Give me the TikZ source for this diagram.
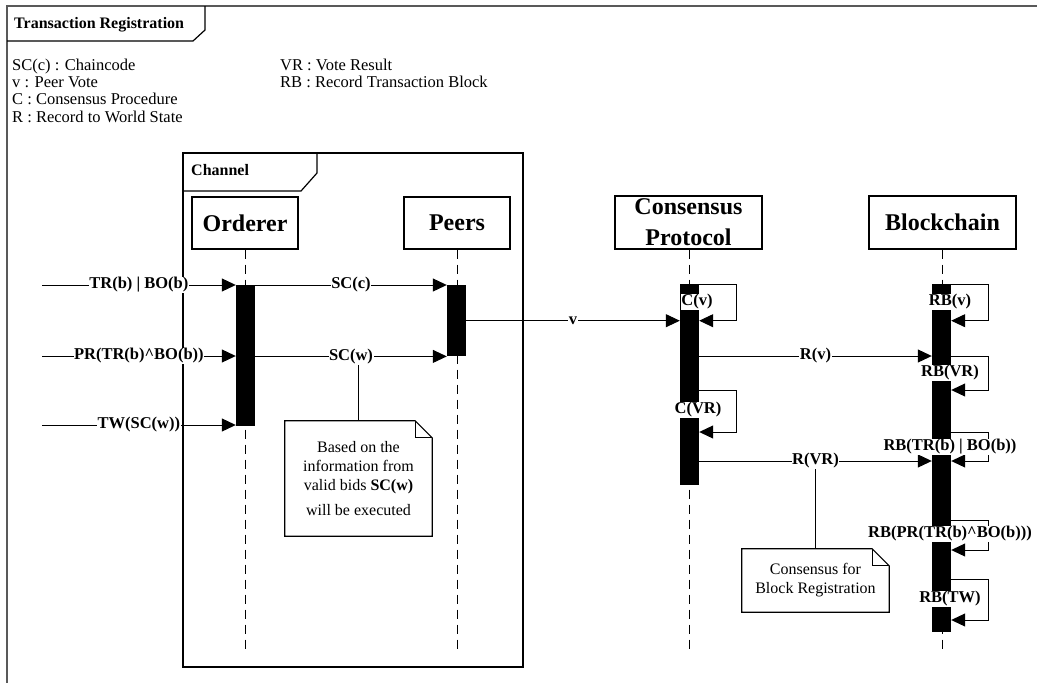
\documentclass[tikz,border=0pt]{standalone}
\usepackage{fontspec}
\setmainfont{Liberation Serif}
\newfontfamily\diagfont{Liberation Serif}
\usetikzlibrary{arrows.meta}

\tikzset{
  frame/.style={line width=1.2pt},
  outerframe/.style={line width=1.6pt, draw=black!65},
  head/.style={rectangle, draw, line width=1.2pt, minimum height=52pt, inner sep=0pt, align=center, font=\diagfont\bfseries\fontsize{24}{31}\selectfont},
  lifeline/.style={line width=1pt, dash pattern=on 9pt off 6pt},
  bar/.style={rectangle, fill=black, minimum width=19pt, inner sep=0pt, anchor=north},
  msg/.style={line width=1pt, -{Triangle[length=14pt,width=13pt]}},
  msglabel/.style={fill=white, inner sep=0.5pt, font=\diagfont\bfseries\fontsize{16.5}{18}\selectfont},
  legend/.style={anchor=base west, inner sep=0pt, font=\diagfont\fontsize{16.5}{18}\selectfont},
  notebox/.style={rectangle, inner sep=0pt, align=center, font=\diagfont\fontsize{16}{19}\selectfont},
}

\begin{document}
\begin{tikzpicture}[x=1pt, y=-1pt]
\useasboundingbox (0,0) rectangle (1037,683);

% outer frame
\draw[outerframe] (7,683) -- (7,6) -- (1037,6);
\draw[frame] (7,41) -- (193,41) -- (205,30) -- (205,6);
\node[anchor=base west, inner sep=0pt, font=\diagfont\bfseries\fontsize{16}{18}\selectfont] (title) at (14,28) {Transaction Registration};

% legend
\node[legend] (keySC) at (12,70) {SC(c) : Chaincode};
\node[legend] (keyV) at (12,87) {v : Peer Vote};
\node[legend] (keyC) at (12,104.5) {C : Consensus Procedure};
\node[legend] (keyR) at (12,122) {R : Record to World State};
\node[legend] (keyVR) at (280,70) {VR : Vote Result};
\node[legend] (keyRB) at (280,87) {RB : Record Transaction Block};

% channel
\draw[frame] (183,153) rectangle (523,667);
\draw[frame] (183,191) -- (301,191) -- (317,173) -- (317,153);
\node[anchor=base west, inner sep=0pt, font=\diagfont\bfseries\fontsize{16}{18}\selectfont] (channel) at (191,175) {Channel};

% heads
\node[head, minimum width=106pt] (orderer) at (245,223) {Orderer};
\node[head, minimum width=106pt] (peers) at (457,223) {Peers};
\node[head, minimum width=147pt, minimum height=53pt] (consensus) at (688.5,222.5) {Consensus\\Protocol};
\node[head, minimum width=147pt, minimum height=53pt] (blockchain) at (942.5,222.5) {Blockchain};

% lifelines
\coordinate (ordererEnd) at (245,650);
\coordinate (peersEnd) at (457,650);
\coordinate (consensusEnd) at (689,650);
\coordinate (blockchainEnd) at (942,650);
\draw[lifeline] (orderer.south) -- (ordererEnd);
\draw[lifeline] (peers.south) -- (peersEnd);
\draw[lifeline] (consensus.south -| consensusEnd) -- (consensusEnd);
\draw[lifeline] (blockchain.south -| blockchainEnd) -- (blockchainEnd);

% activations
\node[bar, minimum height=141pt] (ordererBar) at (245.5,285) {};
\node[bar, minimum height=71pt] (peersBar) at (456.5,285) {};
\node[bar, minimum height=201pt] (consensusBar) at (689.5,284) {};
\node[bar, minimum height=348pt] (blockchainBar) at (941.5,284) {};

% rows
\coordinate (rowTR) at (42,285);
\coordinate (rowPR) at (42,356);
\coordinate (rowTW) at (42,425);
\coordinate (rowC) at (0,356);
\coordinate (rowD) at (0,390);
\coordinate (rowE) at (0,432);
\coordinate (rowF) at (0,461);
\coordinate (rowG) at (0,520);
\coordinate (rowH) at (0,550);
\coordinate (rowI) at (0,579);
\coordinate (rowJ) at (0,620);

% incoming requests
\draw[msg] (rowTR) -- node[msglabel] (trbo) {TR(b) | BO(b)} (rowTR -| ordererBar.west);
\draw[msg] (rowPR) -- node[msglabel] (pr) {PR(TR(b)\textasciicircum BO(b))} (rowPR -| ordererBar.west);
\draw[msg] (rowTW) -- node[msglabel] (tw) {TW(SC(w))} (rowTW -| ordererBar.west);

% orderer -> peers -> consensus
\draw[msg] (ordererBar.north east) -- node[msglabel] (scc) {SC(c)} (peersBar.north west);
\draw[msg] (ordererBar.east |- peersBar.south) -- node[msglabel] (scw) {SC(w)} (peersBar.south west);
\draw[msg] (peersBar.east) -- node[msglabel] (vote) {v} (peersBar.east -| consensusBar.west);

% consensus
\draw[msg] (consensusBar.north east) -- ++(37,0) |- (consensusBar.east |- peersBar.east);
\draw[msg] (consensusBar.east |- rowD) -- ++(37,0) |- (consensusBar.east |- rowE);
\draw[msg] (consensusBar.east |- rowC) -- node[msglabel] (rv) {R(v)} (blockchainBar.west |- rowC);
\draw[msg] (consensusBar.east |- rowF) -- node[msglabel] (rvr) {R(VR)} (blockchainBar.west |- rowF);

% blockchain
\draw[msg] (blockchainBar.north east) -- ++(37,0) |- (blockchainBar.east |- peersBar.east);
\draw[msg] (blockchainBar.east |- rowC) -- ++(37,0) |- (blockchainBar.east |- rowD);
\draw[msg] (blockchainBar.east |- rowE) -- ++(37,0) |- (blockchainBar.east |- rowF);
\draw[msg] (blockchainBar.east |- rowG) -- ++(37,0) |- (blockchainBar.east |- rowH);
\draw[msg] (blockchainBar.east |- rowI) -- ++(37,0) |- (blockchainBar.east |- rowJ);

% self message labels
\node[msglabel] (cv) at (697,302) {C(v)};
\node[msglabel] (cvr) at (698,410) {C(VR)};
\node[msglabel] (rbv) at (950,302) {RB(v)};
\node[msglabel] (rbvr) at (950,373) {RB(VR)};
\node[msglabel] (rbtr) at (950,447) {RB(TR(b) | BO(b))};
\node[msglabel] (rbpr) at (950,534) {RB(PR(TR(b)\textasciicircum BO(b)))};
\node[msglabel] (rbtw) at (950,599) {RB(TW)};

% notes
\node[notebox, minimum width=147pt, minimum height=115pt] (note1) at (358.5,478.5) {Based on the\\information from\\valid bids \textbf{SC(w)}\\[6pt]will be executed};
\draw[frame] (note1.north west) -- ([xshift=-17pt]note1.north east) -- ([yshift=-17pt]note1.north east) -- (note1.south east) -- (note1.south west) -- cycle;
\draw[frame] ([xshift=-17pt]note1.north east) |- ([yshift=-17pt]note1.north east);
\draw[frame] (note1.north |- scw.south) -- (note1.north);

\node[notebox, minimum width=147pt, minimum height=63pt] (note2) at (815.5,580.5) {Consensus for\\Block Registration};
\draw[frame] (note2.north west) -- ([xshift=-17pt]note2.north east) -- ([yshift=-17pt]note2.north east) -- (note2.south east) -- (note2.south west) -- cycle;
\draw[frame] ([xshift=-17pt]note2.north east) |- ([yshift=-17pt]note2.north east);
\draw[frame] (note2.north |- rvr.south) -- (note2.north);
\end{tikzpicture}
\end{document}
